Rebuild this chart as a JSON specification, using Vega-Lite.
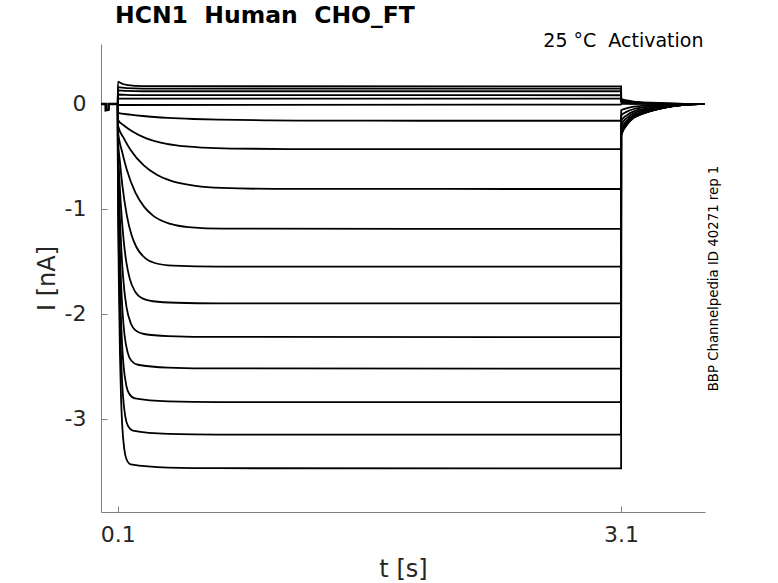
{
  "$schema": "https://vega.github.io/schema/vega-lite/v6.json",
  "width": 604,
  "height": 468,
  "autosize": "none",
  "padding": {"left": 101, "top": 44, "right": 73, "bottom": 71},
  "background": "white",
  "title": {
    "text": "HCN1\u00a0\u00a0Human\u00a0\u00a0CHO_FT",
    "anchor": "start",
    "frame": "group",
    "font": "DejaVu Sans",
    "fontSize": 23.5,
    "fontWeight": "bold",
    "color": "black",
    "dx": 14,
    "offset": 4
  },
  "config": {
    "view": {"stroke": null},
    "font": "DejaVu Sans",
    "axis": {
      "grid": false,
      "domainColor": "#808080",
      "tickColor": "#808080",
      "labelColor": "#262626",
      "titleColor": "#262626",
      "labelFont": "DejaVu Sans",
      "titleFont": "DejaVu Sans",
      "labelFontSize": 22,
      "titleFontSize": 24,
      "titleFontWeight": "normal",
      "tickSize": -6
    }
  },
  "data": {
    "values": [
      {"trace": "pre", "t": 0, "i": 0},
      {"trace": "pre", "t": 0.028, "i": 0},
      {"trace": "pre", "t": 0.0285, "i": -0.06},
      {"trace": "pre", "t": 0.045, "i": -0.055},
      {"trace": "pre", "t": 0.0455, "i": 0},
      {"trace": "pre", "t": 0.1, "i": 0},

      {"trace": "T1", "t": 0.1, "i": 0},
      {"trace": "T1", "t": 0.1005, "i": 0.21},
      {"trace": "T1", "t": 0.13, "i": 0.19},
      {"trace": "T1", "t": 0.16, "i": 0.179},
      {"trace": "T1", "t": 0.2, "i": 0.173},
      {"trace": "T1", "t": 0.3, "i": 0.169},
      {"trace": "T1", "t": 3.1, "i": 0.168},
      {"trace": "T1", "t": 3.1005, "i": 0.05},
      {"trace": "T1", "t": 3.135, "i": 0.033},
      {"trace": "T1", "t": 3.175, "i": 0.022},
      {"trace": "T1", "t": 3.225, "i": 0.016},
      {"trace": "T1", "t": 3.275, "i": 0.0115},
      {"trace": "T1", "t": 3.375, "i": 0.005},
      {"trace": "T1", "t": 3.475, "i": 0.0015},
      {"trace": "T1", "t": 3.6, "i": 0},

      {"trace": "T2", "t": 0.1, "i": 0},
      {"trace": "T2", "t": 0.1005, "i": 0.16},
      {"trace": "T2", "t": 0.15, "i": 0.15},
      {"trace": "T2", "t": 0.25, "i": 0.146},
      {"trace": "T2", "t": 3.1, "i": 0.146},
      {"trace": "T2", "t": 3.1005, "i": 0.04},
      {"trace": "T2", "t": 3.135, "i": 0.026},
      {"trace": "T2", "t": 3.175, "i": 0.018},
      {"trace": "T2", "t": 3.225, "i": 0.013},
      {"trace": "T2", "t": 3.275, "i": 0.009},
      {"trace": "T2", "t": 3.375, "i": 0.004},
      {"trace": "T2", "t": 3.475, "i": 0.001},
      {"trace": "T2", "t": 3.6, "i": 0},

      {"trace": "T3", "t": 0.1, "i": 0},
      {"trace": "T3", "t": 0.1005, "i": 0.13},
      {"trace": "T3", "t": 0.15, "i": 0.124},
      {"trace": "T3", "t": 0.25, "i": 0.121},
      {"trace": "T3", "t": 3.1, "i": 0.121},
      {"trace": "T3", "t": 3.1005, "i": 0.03},
      {"trace": "T3", "t": 3.135, "i": 0.02},
      {"trace": "T3", "t": 3.175, "i": 0.013},
      {"trace": "T3", "t": 3.225, "i": 0.01},
      {"trace": "T3", "t": 3.275, "i": 0.007},
      {"trace": "T3", "t": 3.375, "i": 0.003},
      {"trace": "T3", "t": 3.475, "i": 0.001},
      {"trace": "T3", "t": 3.6, "i": 0},

      {"trace": "T4", "t": 0.1, "i": 0},
      {"trace": "T4", "t": 0.1005, "i": 0.09},
      {"trace": "T4", "t": 0.2, "i": 0.084},
      {"trace": "T4", "t": 3.1, "i": 0.083},
      {"trace": "T4", "t": 3.1005, "i": 0.02},
      {"trace": "T4", "t": 3.135, "i": 0.013},
      {"trace": "T4", "t": 3.175, "i": 0.009},
      {"trace": "T4", "t": 3.225, "i": 0.006},
      {"trace": "T4", "t": 3.275, "i": 0.005},
      {"trace": "T4", "t": 3.375, "i": 0.002},
      {"trace": "T4", "t": 3.475, "i": 0.001},
      {"trace": "T4", "t": 3.6, "i": 0},

      {"trace": "T5", "t": 0.1, "i": 0},
      {"trace": "T5", "t": 0.1005, "i": 0.05},
      {"trace": "T5", "t": 3.1, "i": 0.05},
      {"trace": "T5", "t": 3.1005, "i": 0.01},
      {"trace": "T5", "t": 3.135, "i": 0.007},
      {"trace": "T5", "t": 3.175, "i": 0.004},
      {"trace": "T5", "t": 3.225, "i": 0.003},
      {"trace": "T5", "t": 3.275, "i": 0.002},
      {"trace": "T5", "t": 3.375, "i": 0.001},
      {"trace": "T5", "t": 3.6, "i": 0},

      {"trace": "T6", "t": 0.1, "i": 0},
      {"trace": "T6", "t": 0.1005, "i": -0.01},
      {"trace": "T6", "t": 3.1, "i": -0.005},
      {"trace": "T6", "t": 3.1005, "i": 0},
      {"trace": "T6", "t": 3.6, "i": 0},

      {"trace": "A", "t": 0.1, "i": 0},
      {"trace": "A", "t": 0.1005, "i": -0.085},
      {"trace": "A", "t": 0.175, "i": -0.1016},
      {"trace": "A", "t": 0.25, "i": -0.1145},
      {"trace": "A", "t": 0.4, "i": -0.1324},
      {"trace": "A", "t": 0.55, "i": -0.1433},
      {"trace": "A", "t": 0.7, "i": -0.1499},
      {"trace": "A", "t": 1.0, "i": -0.1563},
      {"trace": "A", "t": 1.3, "i": -0.1587},
      {"trace": "A", "t": 1.9, "i": -0.1598},
      {"trace": "A", "t": 3.1, "i": -0.16},
      {"trace": "A", "t": 3.1005, "i": -0.06},
      {"trace": "A", "t": 3.135, "i": -0.04},
      {"trace": "A", "t": 3.175, "i": -0.026},
      {"trace": "A", "t": 3.225, "i": -0.019},
      {"trace": "A", "t": 3.275, "i": -0.014},
      {"trace": "A", "t": 3.375, "i": -0.006},
      {"trace": "A", "t": 3.475, "i": -0.002},
      {"trace": "A", "t": 3.6, "i": 0},

      {"trace": "B", "t": 0.1, "i": 0},
      {"trace": "B", "t": 0.1005, "i": -0.15},
      {"trace": "B", "t": 0.1425, "i": -0.212},
      {"trace": "B", "t": 0.185, "i": -0.26},
      {"trace": "B", "t": 0.27, "i": -0.327},
      {"trace": "B", "t": 0.355, "i": -0.3676},
      {"trace": "B", "t": 0.44, "i": -0.392},
      {"trace": "B", "t": 0.61, "i": -0.416},
      {"trace": "B", "t": 0.78, "i": -0.425},
      {"trace": "B", "t": 1.12, "i": -0.4293},
      {"trace": "B", "t": 3.1, "i": -0.43},
      {"trace": "B", "t": 3.1005, "i": -0.11},
      {"trace": "B", "t": 3.135, "i": -0.073},
      {"trace": "B", "t": 3.175, "i": -0.048},
      {"trace": "B", "t": 3.225, "i": -0.035},
      {"trace": "B", "t": 3.275, "i": -0.025},
      {"trace": "B", "t": 3.375, "i": -0.011},
      {"trace": "B", "t": 3.475, "i": -0.003},
      {"trace": "B", "t": 3.6, "i": 0},

      {"trace": "C", "t": 0.1, "i": 0},
      {"trace": "C", "t": 0.1005, "i": -0.2},
      {"trace": "C", "t": 0.1388, "i": -0.335},
      {"trace": "C", "t": 0.1775, "i": -0.44},
      {"trace": "C", "t": 0.255, "i": -0.5855},
      {"trace": "C", "t": 0.3325, "i": -0.674},
      {"trace": "C", "t": 0.41, "i": -0.7276},
      {"trace": "C", "t": 0.565, "i": -0.7795},
      {"trace": "C", "t": 0.72, "i": -0.799},
      {"trace": "C", "t": 1.03, "i": -0.8085},
      {"trace": "C", "t": 3.1, "i": -0.81},
      {"trace": "C", "t": 3.1005, "i": -0.16},
      {"trace": "C", "t": 3.135, "i": -0.106},
      {"trace": "C", "t": 3.175, "i": -0.07},
      {"trace": "C", "t": 3.225, "i": -0.051},
      {"trace": "C", "t": 3.275, "i": -0.037},
      {"trace": "C", "t": 3.375, "i": -0.016},
      {"trace": "C", "t": 3.475, "i": -0.005},
      {"trace": "C", "t": 3.6, "i": 0},

      {"trace": "D", "t": 0.1, "i": 0},
      {"trace": "D", "t": 0.1005, "i": -0.25},
      {"trace": "D", "t": 0.1263, "i": -0.458},
      {"trace": "D", "t": 0.1525, "i": -0.619},
      {"trace": "D", "t": 0.205, "i": -0.844},
      {"trace": "D", "t": 0.2575, "i": -0.9804},
      {"trace": "D", "t": 0.31, "i": -1.063},
      {"trace": "D", "t": 0.415, "i": -1.143},
      {"trace": "D", "t": 0.52, "i": -1.173},
      {"trace": "D", "t": 0.73, "i": -1.1876},
      {"trace": "D", "t": 3.1, "i": -1.19},
      {"trace": "D", "t": 3.1005, "i": -0.2},
      {"trace": "D", "t": 3.135, "i": -0.132},
      {"trace": "D", "t": 3.175, "i": -0.088},
      {"trace": "D", "t": 3.225, "i": -0.064},
      {"trace": "D", "t": 3.275, "i": -0.046},
      {"trace": "D", "t": 3.375, "i": -0.02},
      {"trace": "D", "t": 3.475, "i": -0.006},
      {"trace": "D", "t": 3.6, "i": 0},

      {"trace": "E", "t": 0.1, "i": 0},
      {"trace": "E", "t": 0.1005, "i": -0.3},
      {"trace": "E", "t": 0.1138, "i": -0.568},
      {"trace": "E", "t": 0.1275, "i": -0.778},
      {"trace": "E", "t": 0.155, "i": -1.07},
      {"trace": "E", "t": 0.1825, "i": -1.25},
      {"trace": "E", "t": 0.21, "i": -1.36},
      {"trace": "E", "t": 0.265, "i": -1.4705},
      {"trace": "E", "t": 0.32, "i": -1.5147},
      {"trace": "E", "t": 0.43, "i": -1.5403},
      {"trace": "E", "t": 0.7, "i": -1.549},
      {"trace": "E", "t": 3.1, "i": -1.55},
      {"trace": "E", "t": 3.1005, "i": -0.24},
      {"trace": "E", "t": 3.135, "i": -0.158},
      {"trace": "E", "t": 3.175, "i": -0.106},
      {"trace": "E", "t": 3.225, "i": -0.077},
      {"trace": "E", "t": 3.275, "i": -0.055},
      {"trace": "E", "t": 3.375, "i": -0.024},
      {"trace": "E", "t": 3.475, "i": -0.007},
      {"trace": "E", "t": 3.6, "i": 0},

      {"trace": "F", "t": 0.1, "i": 0},
      {"trace": "F", "t": 0.1005, "i": -0.35},
      {"trace": "F", "t": 0.10875, "i": -0.681},
      {"trace": "F", "t": 0.1175, "i": -0.9397},
      {"trace": "F", "t": 0.135, "i": -1.3},
      {"trace": "F", "t": 0.1525, "i": -1.5206},
      {"trace": "F", "t": 0.17, "i": -1.6563},
      {"trace": "F", "t": 0.205, "i": -1.7912},
      {"trace": "F", "t": 0.24, "i": -1.8459},
      {"trace": "F", "t": 0.31, "i": -1.879},
      {"trace": "F", "t": 0.45, "i": -1.8932},
      {"trace": "F", "t": 0.7, "i": -1.8987},
      {"trace": "F", "t": 3.1, "i": -1.9},
      {"trace": "F", "t": 3.1005, "i": -0.26},
      {"trace": "F", "t": 3.135, "i": -0.172},
      {"trace": "F", "t": 3.175, "i": -0.114},
      {"trace": "F", "t": 3.225, "i": -0.083},
      {"trace": "F", "t": 3.275, "i": -0.06},
      {"trace": "F", "t": 3.375, "i": -0.026},
      {"trace": "F", "t": 3.475, "i": -0.008},
      {"trace": "F", "t": 3.6, "i": 0},

      {"trace": "G", "t": 0.1, "i": 0},
      {"trace": "G", "t": 0.1005, "i": -0.4},
      {"trace": "G", "t": 0.1065, "i": -0.79},
      {"trace": "G", "t": 0.113, "i": -1.0938},
      {"trace": "G", "t": 0.126, "i": -1.5171},
      {"trace": "G", "t": 0.139, "i": -1.776},
      {"trace": "G", "t": 0.152, "i": -1.9345},
      {"trace": "G", "t": 0.178, "i": -2.0908},
      {"trace": "G", "t": 0.204, "i": -2.1535},
      {"trace": "G", "t": 0.256, "i": -2.1909},
      {"trace": "G", "t": 0.4, "i": -2.2105},
      {"trace": "G", "t": 0.7, "i": -2.2187},
      {"trace": "G", "t": 3.1, "i": -2.22},
      {"trace": "G", "t": 3.1005, "i": -0.275},
      {"trace": "G", "t": 3.135, "i": -0.182},
      {"trace": "G", "t": 3.175, "i": -0.121},
      {"trace": "G", "t": 3.225, "i": -0.088},
      {"trace": "G", "t": 3.275, "i": -0.063},
      {"trace": "G", "t": 3.375, "i": -0.028},
      {"trace": "G", "t": 3.475, "i": -0.008},
      {"trace": "G", "t": 3.6, "i": 0},

      {"trace": "H", "t": 0.1, "i": 0},
      {"trace": "H", "t": 0.1005, "i": -0.45},
      {"trace": "H", "t": 0.105, "i": -0.894},
      {"trace": "H", "t": 0.11, "i": -1.2405},
      {"trace": "H", "t": 0.12, "i": -1.7227},
      {"trace": "H", "t": 0.13, "i": -2.0167},
      {"trace": "H", "t": 0.14, "i": -2.1964},
      {"trace": "H", "t": 0.16, "i": -2.3731},
      {"trace": "H", "t": 0.18, "i": -2.4429},
      {"trace": "H", "t": 0.22, "i": -2.4836},
      {"trace": "H", "t": 0.4, "i": -2.5105},
      {"trace": "H", "t": 0.7, "i": -2.5187},
      {"trace": "H", "t": 3.1, "i": -2.52},
      {"trace": "H", "t": 3.1005, "i": -0.285},
      {"trace": "H", "t": 3.135, "i": -0.188},
      {"trace": "H", "t": 3.175, "i": -0.125},
      {"trace": "H", "t": 3.225, "i": -0.091},
      {"trace": "H", "t": 3.275, "i": -0.066},
      {"trace": "H", "t": 3.375, "i": -0.029},
      {"trace": "H", "t": 3.475, "i": -0.009},
      {"trace": "H", "t": 3.6, "i": 0},

      {"trace": "I", "t": 0.1, "i": 0},
      {"trace": "I", "t": 0.1005, "i": -0.5},
      {"trace": "I", "t": 0.10425, "i": -1.0057},
      {"trace": "I", "t": 0.1085, "i": -1.3993},
      {"trace": "I", "t": 0.117, "i": -1.9474},
      {"trace": "I", "t": 0.1255, "i": -2.281},
      {"trace": "I", "t": 0.134, "i": -2.4844},
      {"trace": "I", "t": 0.151, "i": -2.6833},
      {"trace": "I", "t": 0.168, "i": -2.7608},
      {"trace": "I", "t": 0.202, "i": -2.8039},
      {"trace": "I", "t": 0.4, "i": -2.8319},
      {"trace": "I", "t": 0.7, "i": -2.8389},
      {"trace": "I", "t": 3.1, "i": -2.84},
      {"trace": "I", "t": 3.1005, "i": -0.29},
      {"trace": "I", "t": 3.135, "i": -0.191},
      {"trace": "I", "t": 3.175, "i": -0.128},
      {"trace": "I", "t": 3.225, "i": -0.093},
      {"trace": "I", "t": 3.275, "i": -0.067},
      {"trace": "I", "t": 3.375, "i": -0.029},
      {"trace": "I", "t": 3.475, "i": -0.009},
      {"trace": "I", "t": 3.6, "i": 0},

      {"trace": "J", "t": 0.1, "i": 0},
      {"trace": "J", "t": 0.1005, "i": -0.55},
      {"trace": "J", "t": 0.10375, "i": -1.1125},
      {"trace": "J", "t": 0.1075, "i": -1.5509},
      {"trace": "J", "t": 0.115, "i": -2.1607},
      {"trace": "J", "t": 0.1225, "i": -2.5323},
      {"trace": "J", "t": 0.13, "i": -2.7579},
      {"trace": "J", "t": 0.145, "i": -2.9785},
      {"trace": "J", "t": 0.16, "i": -3.0641},
      {"trace": "J", "t": 0.19, "i": -3.1107},
      {"trace": "J", "t": 0.4, "i": -3.1419},
      {"trace": "J", "t": 0.7, "i": -3.1489},
      {"trace": "J", "t": 3.1, "i": -3.15},
      {"trace": "J", "t": 3.1005, "i": -0.295},
      {"trace": "J", "t": 3.135, "i": -0.195},
      {"trace": "J", "t": 3.175, "i": -0.13},
      {"trace": "J", "t": 3.225, "i": -0.094},
      {"trace": "J", "t": 3.275, "i": -0.068},
      {"trace": "J", "t": 3.375, "i": -0.03},
      {"trace": "J", "t": 3.475, "i": -0.009},
      {"trace": "J", "t": 3.6, "i": 0},

      {"trace": "K", "t": 0.1, "i": 0},
      {"trace": "K", "t": 0.1005, "i": -0.6},
      {"trace": "K", "t": 0.10325, "i": -1.224},
      {"trace": "K", "t": 0.1065, "i": -1.7101},
      {"trace": "K", "t": 0.113, "i": -2.3861},
      {"trace": "K", "t": 0.1195, "i": -2.7971},
      {"trace": "K", "t": 0.126, "i": -3.047},
      {"trace": "K", "t": 0.139, "i": -3.2904},
      {"trace": "K", "t": 0.152, "i": -3.3838},
      {"trace": "K", "t": 0.178, "i": -3.4332},
      {"trace": "K", "t": 0.4, "i": -3.4632},
      {"trace": "K", "t": 0.7, "i": -3.4691},
      {"trace": "K", "t": 3.1, "i": -3.47},
      {"trace": "K", "t": 3.1005, "i": -0.3},
      {"trace": "K", "t": 3.135, "i": -0.198},
      {"trace": "K", "t": 3.175, "i": -0.132},
      {"trace": "K", "t": 3.225, "i": -0.096},
      {"trace": "K", "t": 3.275, "i": -0.069},
      {"trace": "K", "t": 3.375, "i": -0.03},
      {"trace": "K", "t": 3.475, "i": -0.009},
      {"trace": "K", "t": 3.6, "i": 0}
    ]
  },
  "layer": [
    {
      "transform": [{"filter": "datum.trace != 'pre'"}],
      "mark": {"type": "line", "color": "black", "strokeWidth": 1.8, "interpolate": "monotone"},
      "encoding": {
        "x": {
          "field": "t",
          "type": "quantitative",
          "scale": {"domain": [0, 3.6], "nice": false, "zero": false},
          "axis": {"values": [0.1, 3.1], "format": ".1f", "title": "t [s]", "labelPadding": 18, "titlePadding": 12}
        },
        "y": {
          "field": "i",
          "type": "quantitative",
          "scale": {"domain": [-3.886, 0.571], "nice": false, "zero": false},
          "axis": {"values": [-3, -2, -1, 0], "labelExpr": "toString(datum.value)", "title": "I [nA]", "labelPadding": 21, "titlePadding": 5}
        },
        "detail": {"field": "trace"}
      }
    },
    {
      "transform": [{"filter": "datum.trace == 'pre'"}],
      "mark": {"type": "line", "color": "black", "strokeWidth": 2.6},
      "encoding": {
        "x": {"field": "t", "type": "quantitative", "axis": null},
        "y": {"field": "i", "type": "quantitative", "axis": null}
      }
    },
    {
      "transform": [{"filter": "datum.trace == 'pre'"}],
      "mark": {"type": "line", "opacity": 0},
      "encoding": {
        "x": {
          "field": "t",
          "type": "quantitative",
          "axis": {"orient": "top", "title": "25\u00a0°C\u00a0\u00a0Activation", "domain": false, "ticks": false, "labels": false, "titleAnchor": "end", "titleFontSize": 19, "titleColor": "black", "titlePadding": -6, "titleX": 602}
        },
        "y": {
          "field": "i",
          "type": "quantitative",
          "axis": {"orient": "right", "title": "BBP Channelpedia ID 40271 rep 1", "domain": false, "ticks": false, "labels": false, "titleAngle": 270, "titleFontSize": 13.3, "titleColor": "black", "titlePadding": 15}
        }
      }
    }
  ],
  "resolve": {"axis": {"x": "independent", "y": "independent"}}
}
